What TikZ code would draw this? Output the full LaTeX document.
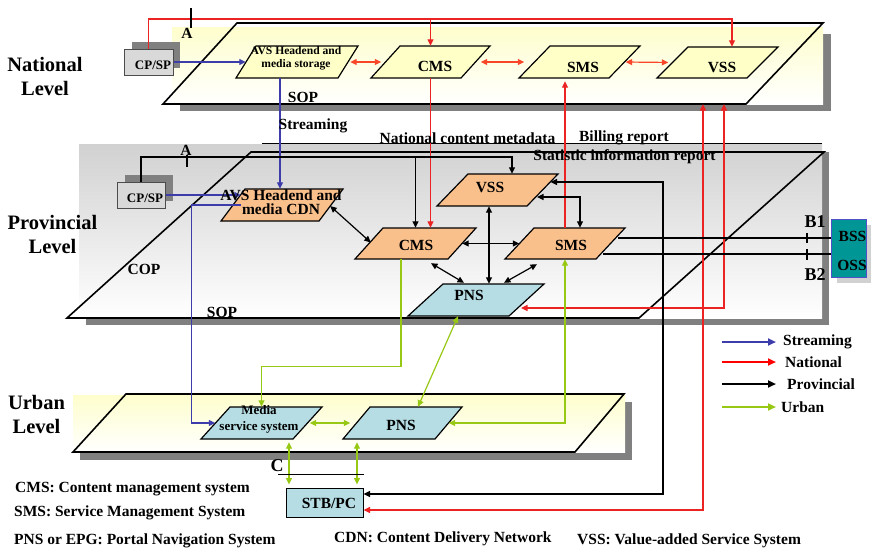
\documentclass[tikz,border=0pt]{standalone}
\usepackage{fontspec}
\setmainfont{Liberation Serif}
\usetikzlibrary{arrows.meta,calc}
\definecolor{cstream}{RGB}{60,60,170}
\definecolor{cnat}{RGB}{235,35,35}
\definecolor{cnattwo}{RGB}{250,70,40}
\definecolor{curb}{RGB}{150,200,20}
\definecolor{corange}{RGB}{250,192,140}
\definecolor{cblue}{RGB}{182,221,228}
\definecolor{cyel}{RGB}{255,255,200}
\definecolor{cyelbg}{RGB}{254,254,205}
\definecolor{cshadow}{RGB}{128,128,128}
\definecolor{ccpsp}{RGB}{217,217,217}
\definecolor{cteal}{RGB}{0,150,150}
\definecolor{cbssb}{RGB}{80,80,200}
\newcommand\mypgram[7]{%
  \draw[pg, fill=#7] (#2,#6) -- ({#2+#4},#6) -- ({#3+#4},#5) -- (#3,#5) -- cycle;
  \node[inner sep=0pt, minimum width=#4, minimum height={#6-#5}] (#1) at ({(#2+#3+#4)/2},{(#5+#6)/2}) {};
}
\tikzset{
  pl/.style={line width=1.6pt, draw=black},
  pg/.style={line width=1.2pt, draw=black},
  cn/.style={line width=1.2pt},
  stream/.style={cn, draw=cstream},
  nat/.style={cn, draw=cnat},
  nattwo/.style={cn, draw=cnattwo},
  prov/.style={cn, draw=black},
  urb/.style={cn, draw=curb},
  boxst/.style={draw=black!70, line width=1pt, inner sep=0pt},
  ftext/.style={font=\fontsize{15.5}{17}\selectfont\bfseries, inner sep=0pt},
  fsmall/.style={font=\fontsize{11.6}{13}\selectfont\bfseries, inner sep=0pt, align=center},
  fmed/.style={font=\fontsize{13}{15}\selectfont\bfseries, inner sep=0pt, align=center},
  flevel/.style={font=\fontsize{20.5}{24}\selectfont\bfseries, inner sep=0pt, align=center},
  fbig/.style={font=\fontsize{18}{20}\selectfont\bfseries, inner sep=0pt},
  legarrow/.style={line width=2pt, -{Triangle[length=8pt,width=7pt]}},
}
\begin{document}
\begin{tikzpicture}[x=1pt,y=-1pt, >={Triangle[length=6.5pt,width=6pt]}]
\useasboundingbox (0,0) rectangle (871,552);
% ---------- planes ----------
\fill[cshadow] (180,34) rectangle (831,111);
\shade[top color=cyelbg, bottom color=white] (172,27) rectangle (823,104);
\draw[pl] (163,104) -- (746,104) -- (823,23) -- (237,23) -- cycle;

\fill[cshadow] (86,152) rectangle (829,325);
\shade[top color=black!18, bottom color=white] (79,144) rectangle (822,318);
\draw[pl] (67,318) -- (639,318) -- (824,152) -- (251,152) -- cycle;
\draw[line width=0.9pt] (262,143.5) -- (822,143.5);

\fill[cshadow] (80,402) rectangle (632,460);
\shade[top color=cyelbg, bottom color=white] (73,395) rectangle (625,452);
\draw[pl] (73,452) -- (575,452) -- (624,394) -- (126,394) -- cycle;

% ---------- nodes ----------
\mypgram{navs}{236}{256}{102}{46}{78}{cyel}
\mypgram{ncms}{371}{400}{90}{46}{78}{cyel}
\mypgram{nsms}{519}{550}{90}{46}{78}{cyel}
\mypgram{nvss}{657}{688}{90}{47}{78}{cyel}
\mypgram{pavs}{221}{245}{98}{189}{221}{corange}
\mypgram{pcms}{355}{383}{93}{228}{259}{corange}
\mypgram{pvss}{437}{468}{90}{174}{206}{corange}
\mypgram{psms}{505}{534}{91}{228}{259}{corange}
\mypgram{ppns}{408}{443}{101}{284}{316}{cblue}
\mypgram{media}{201}{230}{92}{407}{439}{cblue}
\mypgram{upns}{343}{370}{92}{407}{439}{cblue}

\fill[cshadow] (132,42) rectangle (180,68);
\node[boxst, fill=ccpsp, minimum width=49, minimum height=26] (ncp) at (148.5,62) {};
\fill[cshadow] (125,175) rectangle (173,201);
\node[boxst, fill=ccpsp, minimum width=48, minimum height=26] (pcp) at (141,195) {};
\node[boxst, draw=black, fill=cblue, minimum width=77, minimum height=29] (stb) at (324.5,502.5) {};
\fill[black!18] (837,225) rectangle (871,283);
\node[draw=cbssb, line width=1pt, fill=cteal, inner sep=0pt, minimum width=35, minimum height=58] (bss) at (848.5,248) {};

% ---------- streaming ----------
\draw[stream,->] (ncp.east) -- (navs.west);
\draw[stream,->] ($(navs.south -| pavs.north)+(-2,0)$) -- ($(pavs.north)+(-2,0)$);
\draw[stream,->] (pcp.east) -- ($(pcp.east -| pavs.west)+(8,0)$);
\draw[stream,->] ($(pavs.west)+(8,0)$) -| ($(media.west)+(-23.5,0)$) -- (media.west);

% ---------- national ----------
\coordinate (rt) at (732,19);
\draw[nat,->] (ncp.north) |- (rt) -- (rt |- nvss.north);
\draw[nat,->] (ncms.north |- rt) -- (ncms.north);
\draw[nattwo,<->,shorten <=2pt,shorten >=4pt] (navs.east) -- (ncms.west);
\draw[nattwo,<->,shorten <=5pt,shorten >=10pt] (ncms.east) -- (nsms.west);
\draw[nattwo,<->,shorten <=1pt,shorten >=4pt] (nsms.east) -- (nvss.west);
\draw[nat,->] (ncms.south) -- (ncms.south |- pcms.north);
\draw[nat,->] (psms.north) -- ($(psms.north |- nsms.south)+(0,3)$);
\coordinate (nb1) at (703,104);
\coordinate (nb2) at (724,104);
\draw[nat,<->] ($(stb.east)+(0,7.5)$) -| (nb1);
\draw[nat,<->] ($(ppns.center)+(45,8)$) -| (nb2);

% ---------- provincial ----------
\coordinate (pk) at (512,157);
\draw[prov,->] (pcp.north) |- (pk) -- (pk |- pvss.north);
\draw[prov,->] (pcms.north |- pk) -- (pcms.north);
\draw[prov,<->] ($(pavs.east)+(-1,1)$) -- ($(pcms.west)+(2,-1)$);
\draw[prov,<->] (pcms.east) -- (psms.west);
\draw[prov,<->] ($(pvss.south)+(-8.5,0)$) -- ($(ppns.north)+(13,0)$);
\draw[prov,<->] ($(pcms.south)+(15.5,4)$) -- ($(ppns.north)+(-12,-1)$);
\draw[prov,<->] ($(psms.south)+(-28,5)$) -- ($(ppns.north)+(28,-1)$);
\draw[prov,<->] ($(pvss.center)+(39.5,7)$) -| ($(psms.north)+(15,0)$);
\coordinate (pv) at (663,182);
\draw[prov,<->] ($(stb.east)+(0,-8.5)$) -| (pv) -- ($(pvss.center)+(53,-8)$);
\draw[prov] ($(psms.center)+(53,-5.5)$) -- ($(bss.west)+(0,-10)$);
\draw[prov] ($(psms.center)+(38,10.5)$) -- ($(bss.west)+(0,6)$);
\draw[line width=1.2pt] (807,233) -- (807,243) (807,249) -- (807,260);

% ---------- urban ----------
\draw[urb,->] ($(pcms.south)+(-14.5,0)$) |- ($(media.north)+(0,-40)$) -- (media.north);
\draw[urb,<->] ($(ppns.south)+(-18,0)$) -- ($(upns.north)+(15.5,0)$);
\draw[urb,<->] (psms.south) |- (upns.east);
\draw[urb,<->,shorten <=2pt,shorten >=6pt] (media.east) -- (upns.west);
\draw[urb,<->,shorten <=3pt,shorten >=3pt] ($(media.south)+(27.5,0)$) -- ($(stb.north -| media.south)+(27.5,0)$);
\draw[urb,<->,shorten <=3pt,shorten >=3pt] ($(upns.south)+(-45.5,0)$) -- ($(stb.north -| upns.south)+(-45.5,0)$);
\draw[line width=1pt] (278,474) -- (364,474);

% ticks
\draw[line width=1.2pt] (191,8) -- (191,28);
\draw[line width=1.2pt] (187,155) -- (187,167);

% ---------- legend ----------
\coordinate (l1a) at (722,342); \coordinate (l1b) at (776,342);
\coordinate (l2a) at (722,362); \coordinate (l2b) at (776,362);
\coordinate (l3a) at (722,384); \coordinate (l3b) at (776,384);
\coordinate (l4a) at (722,407); \coordinate (l4b) at (776,407);
\draw[legarrow, draw=cstream] (l1a) -- (l1b);
\draw[legarrow, draw=red] (l2a) -- (l2b);
\draw[legarrow, draw=black] (l3a) -- (l3b);
\draw[legarrow, draw=curb] (l4a) -- (l4b);
\node[ftext, anchor=west] (tl1) at (783,342) {Streaming};
\node[ftext, anchor=west] (tl2) at (785,362) {National};
\node[ftext, anchor=west] (tl3) at (787,384) {Provincial};
\node[ftext, anchor=west] (tl4) at (781,407) {Urban};

% ---------- texts ----------
\node[flevel] (lnat) at (45,76) {National\\Level};
\node[flevel] (lprov) at (52.5,234) {Provincial\\Level};
\node[flevel] (lurb) at (36.5,414) {Urban\\Level};

\node[fsmall] (tnavs) at (296,58.5) {AVS Headend and\\media storage};
\node[ftext] (tncms) at (435,66) {CMS};
\node[ftext] (tnsms) at (583,67) {SMS};
\node[ftext] (tnvss) at (722,67) {VSS};
\node[ftext] (tsop1) at (303,97.5) {SOP};
\node[ftext] (ta1) at (187,33) {A};
\node[fmed] (tncp) at (153,65) {CP/SP};
\node[ftext] (tstr) at (313,126) {Streaming};
\node[ftext] (tncm) at (467.5,138) {National content metadata};
\node[ftext] (tbill) at (624,138) {Billing report};
\node[ftext] (tstat) at (624.5,157) {Statistic information report};

\node[ftext, align=center, font=\fontsize{15.5}{14}\selectfont\bfseries] (tpavs) at (281,202) {AVS Headend and\\media CDN};
\node[ftext] (tpcms) at (416,245) {CMS};
\node[ftext] (tpvss) at (490,187) {VSS};
\node[ftext] (tpsms) at (571,245) {SMS};
\node[ftext] (tppns) at (469,295) {PNS};
\node[ftext] (tcop) at (144,269) {COP};
\node[ftext] (tsop2) at (222,312) {SOP};
\node[ftext] (ta2) at (186,150) {A};
\node[fmed] (tpcp) at (145,198) {CP/SP};
\node[fbig] (tb1) at (815,222) {B1};
\node[fbig] (tb2) at (815,275) {B2};
\node[ftext] (tbss) at (852.5,236) {BSS};
\node[ftext] (toss) at (852,265) {OSS};

\node[fmed, font=\fontsize{13}{16}\selectfont\bfseries] (tmedia) at (259,419) {Media\\service system};
\node[ftext] (tupns) at (401,425) {PNS};
\node[ftext] (tstb) at (329,503) {STB/PC};
\node[fbig] (tc) at (277,466) {C};

\node[ftext, anchor=west] (d1) at (15,489) {CMS: Content management system};
\node[ftext, anchor=west] (d2) at (14,513) {SMS: Service Management System};
\node[ftext, anchor=west] (d3) at (14,541) {PNS or EPG: Portal Navigation System};
\node[ftext, anchor=west] (d4) at (334,539) {CDN: Content Delivery Network};
\node[ftext, anchor=west] (d5) at (577,541) {VSS: Value-added Service System};
\end{tikzpicture}
\end{document}
